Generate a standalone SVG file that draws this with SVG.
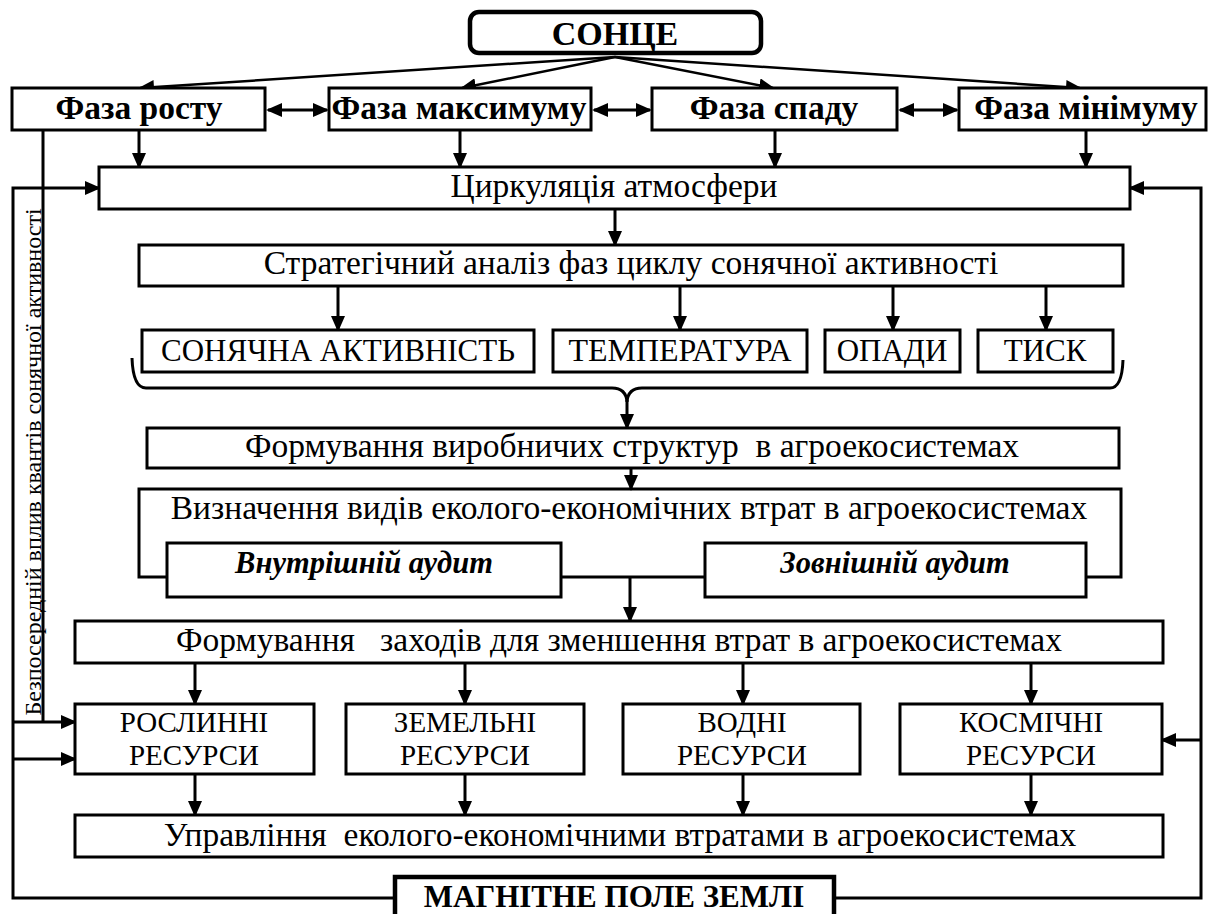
<svg xmlns="http://www.w3.org/2000/svg" width="1208" height="914" viewBox="0 0 1208 914">
<style>
.box{fill:#fff;stroke:#000;stroke-width:3}
.thick{stroke-width:4.5}
.t{font-family:"Liberation Serif","Times New Roman",serif;font-size:33.5px;fill:#000;text-anchor:middle}
.c{font-size:31px}
.r{font-size:29px}
.b{font-weight:bold}
.bi{font-weight:bold;font-style:italic;font-size:30.5px}
.ln{stroke:#000;stroke-width:3;fill:none}
.thin{stroke-width:2.5}
</style>
<defs>
<marker id="ah" markerUnits="userSpaceOnUse" markerWidth="16" markerHeight="14" viewBox="0 0 16 14" refX="14" refY="7" orient="auto-start-reverse">
<path d="M0,0 L16,7 L0,14 z" fill="#000"/>
</marker>
</defs>
<rect width="1208" height="914" fill="#fff"/>
<g id="connectors">
<line class="ln thin" x1="615" y1="57" x2="140" y2="88" marker-end="url(#ah)"/>
<line class="ln thin" x1="615" y1="57" x2="462" y2="88" marker-end="url(#ah)"/>
<line class="ln thin" x1="615" y1="57" x2="773" y2="88" marker-end="url(#ah)"/>
<line class="ln thin" x1="615" y1="57" x2="1080" y2="88" marker-end="url(#ah)"/>
<line class="ln" x1="268" y1="110" x2="327" y2="110" marker-start="url(#ah)" marker-end="url(#ah)"/>
<line class="ln" x1="594" y1="110" x2="650" y2="110" marker-start="url(#ah)" marker-end="url(#ah)"/>
<line class="ln" x1="900" y1="110" x2="957" y2="110" marker-start="url(#ah)" marker-end="url(#ah)"/>
<line class="ln" x1="139" y1="130" x2="139" y2="167" marker-end="url(#ah)"/>
<line class="ln" x1="460" y1="130" x2="460" y2="167" marker-end="url(#ah)"/>
<line class="ln" x1="775" y1="130" x2="775" y2="167" marker-end="url(#ah)"/>
<line class="ln" x1="1086" y1="130" x2="1086" y2="167" marker-end="url(#ah)"/>
<line class="ln" x1="615" y1="209" x2="615" y2="245" marker-end="url(#ah)"/>
<line class="ln" x1="338" y1="286" x2="338" y2="330" marker-end="url(#ah)"/>
<line class="ln" x1="680" y1="286" x2="680" y2="330" marker-end="url(#ah)"/>
<line class="ln" x1="893" y1="286" x2="893" y2="330" marker-end="url(#ah)"/>
<line class="ln" x1="1046" y1="286" x2="1046" y2="330" marker-end="url(#ah)"/>
<path class="ln" d="M132,358 Q133,388 146,388 L612,388 Q626,388 627,402 Q628,388 642,388 L1110,388 Q1122,388 1123,360"/>
<line class="ln" x1="627" y1="400" x2="627" y2="428" marker-end="url(#ah)"/>
<line class="ln" x1="631" y1="468" x2="631" y2="489" marker-end="url(#ah)"/>
<line class="ln" x1="561" y1="577" x2="705" y2="577"/>
<line class="ln" x1="630" y1="577" x2="630" y2="621" marker-end="url(#ah)"/>
<line class="ln" x1="195" y1="663" x2="195" y2="704" marker-end="url(#ah)"/>
<line class="ln" x1="465" y1="663" x2="465" y2="704" marker-end="url(#ah)"/>
<line class="ln" x1="743" y1="663" x2="743" y2="704" marker-end="url(#ah)"/>
<line class="ln" x1="1031" y1="663" x2="1031" y2="704" marker-end="url(#ah)"/>
<line class="ln" x1="195" y1="774" x2="195" y2="815" marker-end="url(#ah)"/>
<line class="ln" x1="465" y1="774" x2="465" y2="815" marker-end="url(#ah)"/>
<line class="ln" x1="743" y1="774" x2="743" y2="815" marker-end="url(#ah)"/>
<line class="ln" x1="1031" y1="774" x2="1031" y2="815" marker-end="url(#ah)"/>
<polyline class="ln" points="395,898 13,898 13,188 99,188" marker-end="url(#ah)"/>
<line class="ln" x1="43" y1="130" x2="43" y2="722"/>
<line class="ln" x1="13" y1="722" x2="75" y2="722" marker-end="url(#ah)"/>
<line class="ln" x1="13" y1="759" x2="75" y2="759" marker-end="url(#ah)"/>
<polyline class="ln" points="834,898 1201,898 1201,188 1130,188" marker-end="url(#ah)"/>
<line class="ln" x1="1201" y1="740" x2="1162" y2="740" marker-end="url(#ah)"/>
<text class="t" style="font-size:24px" transform="translate(40.5,462) rotate(-90)">Безпосередній вплив квантів сонячної активності</text>
</g>
<g id="sun">
<rect class="box thick" x="470" y="12" width="291" height="41" rx="9"/>
<text class="t b" style="font-size:34px" x="615" y="45">СОНЦЕ</text>
</g>
<g id="phase-growth">
<rect class="box" x="12" y="88" width="253" height="42"/>
<text class="t b" x="139" y="119">Фаза росту</text>
</g>
<g id="phase-max">
<rect class="box" x="329" y="88" width="262" height="42"/>
<text class="t b" x="459" y="119">Фаза максимуму</text>
</g>
<g id="phase-decline">
<rect class="box" x="652" y="88" width="245" height="42"/>
<text class="t b" x="774" y="119">Фаза спаду</text>
</g>
<g id="phase-min">
<rect class="box" x="959" y="88" width="247" height="42"/>
<text class="t b" x="1086" y="119">Фаза мінімуму</text>
</g>
<g id="circulation">
<rect class="box" x="99" y="167" width="1031" height="42"/>
<text class="t" x="614" y="197">Циркуляція атмосфери</text>
</g>
<g id="strategic">
<rect class="box" x="139" y="245" width="984" height="41"/>
<text class="t" x="631" y="274">Стратегічний аналіз фаз циклу сонячної активності</text>
</g>
<g id="solar">
<rect class="box" x="142" y="330" width="392" height="42"/>
<text class="t c" x="338" y="361">СОНЯЧНА АКТИВНІСТЬ</text>
</g>
<g id="temperature">
<rect class="box" x="553" y="330" width="254" height="42"/>
<text class="t c" style="font-size:32px" x="680" y="361">ТЕМПЕРАТУРА</text>
</g>
<g id="precip">
<rect class="box" x="825" y="330" width="135" height="42"/>
<text class="t c" x="892" y="361">ОПАДИ</text>
</g>
<g id="pressure">
<rect class="box" x="978" y="330" width="135" height="42"/>
<text class="t c" x="1045" y="361">ТИСК</text>
</g>
<g id="production">
<rect class="box" x="147" y="428" width="972" height="40"/>
<text class="t" x="632" y="457" xml:space="preserve">Формування виробничих структур  в агроекосистемах</text>
</g>
<g id="losses">
<path class="ln" d="M167,577 L139,577 L139,489 L1121,489 L1121,577 L1086,577"/>
<text class="t" x="629" y="519">Визначення видів еколого-економічних втрат в агроекосистемах</text>
</g>
<g id="internal-audit">
<rect class="box" x="167" y="543" width="394" height="54"/>
<text class="t bi" x="364" y="573">Внутрішній аудит</text>
</g>
<g id="external-audit">
<rect class="box" x="705" y="543" width="381" height="54"/>
<text class="t bi" x="895" y="573">Зовнішній аудит</text>
</g>
<g id="measures">
<rect class="box" x="75" y="621" width="1088" height="42"/>
<text class="t" x="619" y="651" xml:space="preserve">Формування   заходів для зменшення втрат в агроекосистемах</text>
</g>
<g id="plant">
<rect class="box" x="75" y="704" width="239" height="70"/>
<text class="t r" x="194" y="732">РОСЛИННІ</text>
<text class="t r" x="194" y="765">РЕСУРСИ</text>
</g>
<g id="land">
<rect class="box" x="346" y="704" width="238" height="70"/>
<text class="t r" x="465" y="732">ЗЕМЕЛЬНІ</text>
<text class="t r" x="465" y="765">РЕСУРСИ</text>
</g>
<g id="water">
<rect class="box" x="623" y="704" width="237" height="70"/>
<text class="t r" x="742" y="732">ВОДНІ</text>
<text class="t r" x="742" y="765">РЕСУРСИ</text>
</g>
<g id="space">
<rect class="box" x="900" y="704" width="262" height="70"/>
<text class="t r" x="1031" y="732">КОСМІЧНІ</text>
<text class="t r" x="1031" y="765">РЕСУРСИ</text>
</g>
<g id="management">
<rect class="box" x="75" y="815" width="1088" height="42"/>
<text class="t" x="620" y="846" xml:space="preserve">Управління  еколого-економічними втратами в агроекосистемах</text>
</g>
<g id="magnetic">
<rect class="box thick" x="395" y="877" width="439" height="50"/>
<text class="t b c" x="614" y="907">МАГНІТНЕ ПОЛЕ ЗЕМЛІ</text>
</g>
</svg>
